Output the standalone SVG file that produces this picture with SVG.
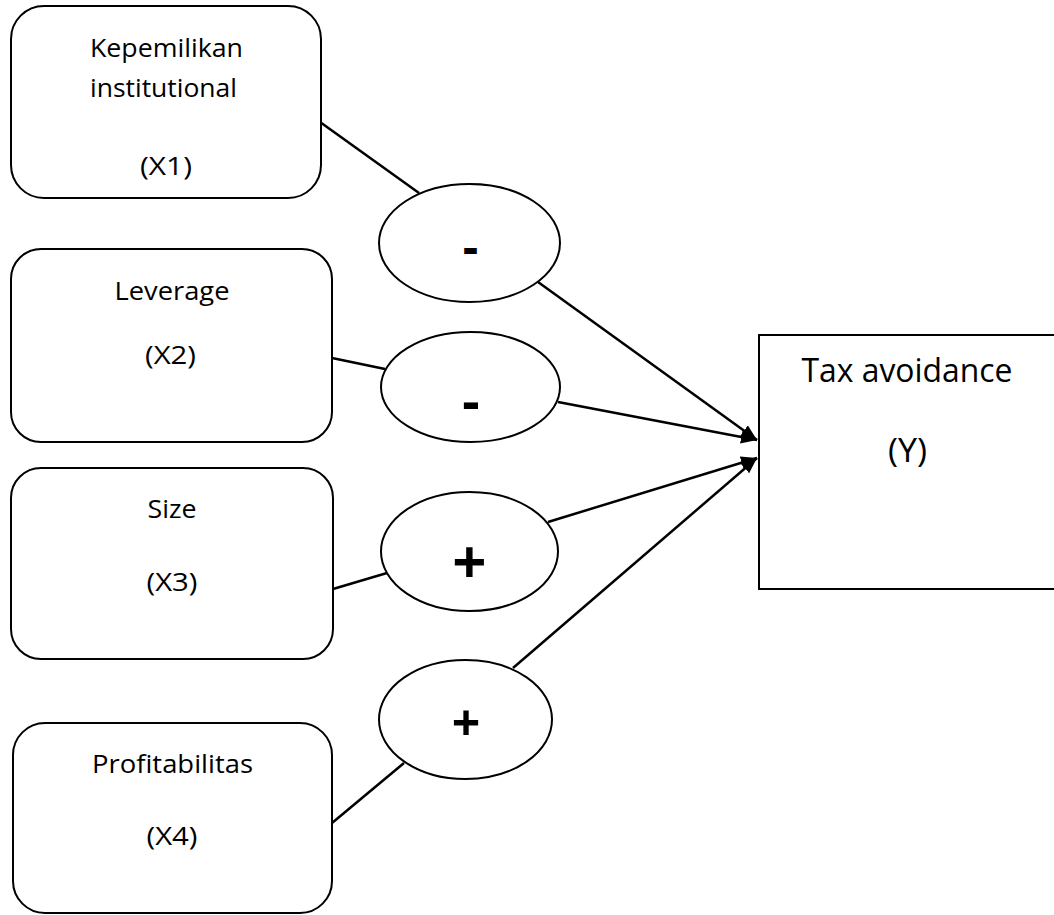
<svg xmlns="http://www.w3.org/2000/svg" width="1054" height="915" viewBox="0 0 1054 915">
<style>
.box{fill:#fff;stroke:#000;stroke-width:2}
.ell{fill:#fff;stroke:#000;stroke-width:2}
.lbl{font-family:"Open Sans","Liberation Sans",sans-serif;font-size:26px;fill:#000;text-anchor:middle}
.big{font-family:"Open Sans","Liberation Sans",sans-serif;font-size:33px;fill:#000;text-anchor:middle}
.sign{font-family:"Open Sans","Liberation Sans",sans-serif;font-weight:bold;fill:#000;text-anchor:middle}
.con{stroke:#000;stroke-width:2.5;fill:none}
</style>
<defs>
<marker id="arr" markerUnits="userSpaceOnUse" markerWidth="18" markerHeight="14" refX="16" refY="6.5" orient="auto">
<path d="M0,0 L16,6.5 L0,13 z" fill="#000"/>
</marker>
</defs>
<rect width="1054" height="915" fill="#fff"/>
<g id="connectors">
<line class="con" x1="320" y1="122" x2="419" y2="193"/>
<line class="con" x1="538" y1="282" x2="757" y2="440" marker-end="url(#arr)"/>
<line class="con" x1="332" y1="358" x2="385" y2="369"/>
<line class="con" x1="558" y1="402" x2="757" y2="440" marker-end="url(#arr)"/>
<line class="con" x1="333" y1="589" x2="387" y2="573"/>
<line class="con" x1="548" y1="522" x2="757" y2="458" marker-end="url(#arr)"/>
<line class="con" x1="332" y1="823" x2="404" y2="763"/>
<line class="con" x1="513" y1="668" x2="757" y2="458" marker-end="url(#arr)"/>
</g>
<g id="x1">
<rect class="box" x="11" y="6" width="310" height="192" rx="33" ry="33"/>
<text class="lbl" x="166.5" y="57" textLength="153" lengthAdjust="spacingAndGlyphs">Kepemilikan</text>
<text class="lbl" x="163.5" y="97" textLength="147" lengthAdjust="spacingAndGlyphs">institutional</text>
<text class="lbl" x="166" y="175" textLength="52" lengthAdjust="spacingAndGlyphs">(X1)</text>
</g>
<g id="x2">
<rect class="box" x="11" y="249" width="321" height="193" rx="30" ry="30"/>
<text class="lbl" x="172" y="300" textLength="115" lengthAdjust="spacingAndGlyphs">Leverage</text>
<text class="lbl" x="170.5" y="364" textLength="51" lengthAdjust="spacingAndGlyphs">(X2)</text>
</g>
<g id="x3">
<rect class="box" x="11" y="468" width="322" height="191" rx="30" ry="30"/>
<text class="lbl" x="172" y="518" textLength="49" lengthAdjust="spacingAndGlyphs">Size</text>
<text class="lbl" x="172" y="591" textLength="51" lengthAdjust="spacingAndGlyphs">(X3)</text>
</g>
<g id="x4">
<rect class="box" x="13" y="723" width="319" height="190" rx="32" ry="32"/>
<text class="lbl" x="172.5" y="773" textLength="161" lengthAdjust="spacingAndGlyphs">Profitabilitas</text>
<text class="lbl" x="172" y="845" textLength="51" lengthAdjust="spacingAndGlyphs">(X4)</text>
</g>
<g id="e1">
<ellipse class="ell" cx="469.5" cy="243" rx="90.5" ry="59"/>
<text class="sign" x="470.5" y="264" font-size="48">-</text>
</g>
<g id="e2">
<ellipse class="ell" cx="470.5" cy="387" rx="89.5" ry="55"/>
<text class="sign" x="471" y="420" font-size="54">-</text>
</g>
<g id="e3">
<ellipse class="ell" cx="469.5" cy="551.5" rx="88.5" ry="59.5"/>
<text class="sign" x="469.5" y="584" font-size="60">+</text>
</g>
<g id="e4">
<ellipse class="ell" cx="465.5" cy="719.5" rx="86.5" ry="59.5"/>
<text class="sign" x="466" y="741" font-size="50">+</text>
</g>
<g id="y">
<rect class="box" x="759" y="335" width="320" height="254"/>
<text class="big" x="907" y="382" textLength="211" lengthAdjust="spacingAndGlyphs">Tax avoidance</text>
<text class="big" x="907.5" y="462" textLength="39" lengthAdjust="spacingAndGlyphs">(Y)</text>
</g>
</svg>
